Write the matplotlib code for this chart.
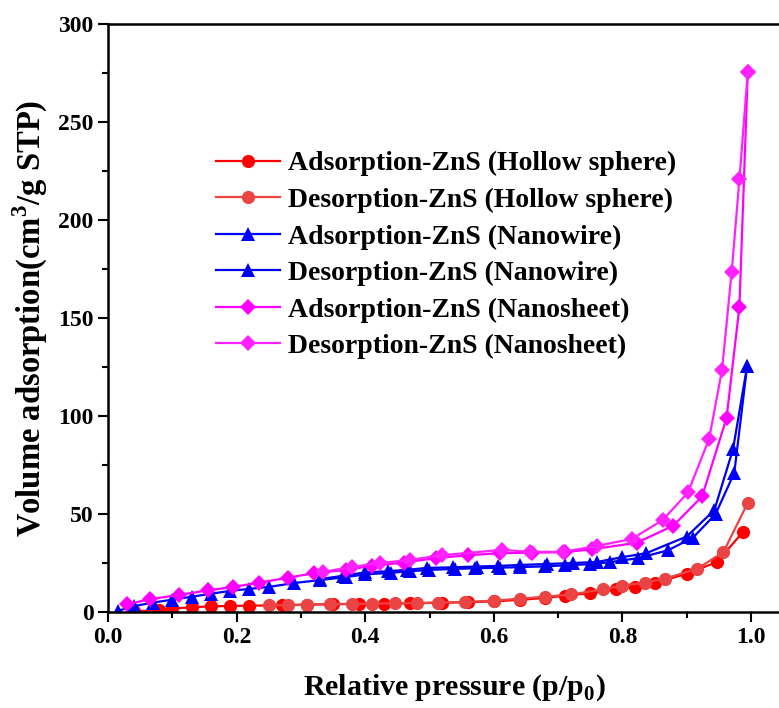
import matplotlib
matplotlib.use("Agg")
import matplotlib.pyplot as plt
from matplotlib.ticker import MultipleLocator

plt.rcParams['font.family'] = ['Liberation Serif', 'DejaVu Serif']
plt.rcParams['font.weight'] = 'bold'
plt.rcParams['mathtext.fontset'] = 'custom'
plt.rcParams['mathtext.rm'] = 'Liberation Serif:bold'
plt.rcParams['mathtext.bf'] = 'Liberation Serif:bold'

# ZnS hollow sphere
hs_ads_x = [0.04, 0.08, 0.10, 0.13, 0.16, 0.19, 0.22, 0.27, 0.31, 0.35, 0.39, 0.43, 0.47,
            0.52, 0.56, 0.60, 0.64, 0.68, 0.71, 0.75, 0.79, 0.82, 0.85, 0.90, 0.947, 0.988]
hs_ads_y = [0.3, 1.0, 1.8, 2.4, 2.9, 3.1, 3.2, 3.5, 3.8, 4.0, 4.2, 4.3, 4.5,
            4.7, 5.0, 5.4, 6.2, 7.2, 8.3, 9.6, 11.5, 13.0, 14.8, 19.5, 25.5, 41.0]
hs_des_x = [0.995, 0.957, 0.916, 0.866, 0.835, 0.80, 0.77, 0.72, 0.68, 0.64, 0.60, 0.555,
            0.513, 0.48, 0.446, 0.41, 0.38, 0.345, 0.31, 0.28, 0.25]
hs_des_y = [55.7, 30.5, 22.0, 17.0, 15.0, 13.5, 11.5, 9.0, 7.8, 6.8, 5.8, 5.1,
            4.8, 4.6, 4.4, 4.3, 4.1, 3.9, 3.7, 3.5, 3.4]

# ZnS nanowire
nw_ads_x = [0.015, 0.04, 0.07, 0.10, 0.13, 0.16, 0.19, 0.22, 0.25, 0.29, 0.33, 0.37, 0.40,
            0.44, 0.47, 0.50, 0.54, 0.57, 0.61, 0.64, 0.68, 0.71, 0.75, 0.78, 0.825, 0.871,
            0.91, 0.945, 0.974, 0.994]
nw_ads_y = [0.5, 3.0, 4.8, 6.3, 7.8, 9.3, 10.8, 11.8, 12.8, 14.8, 16.3, 17.8, 19.2,
            20.0, 20.8, 21.5, 22.0, 22.3, 22.6, 22.9, 23.3, 23.8, 24.4, 25.4, 27.5, 31.5,
            38.0, 50.0, 71.0, 125.5]
nw_des_x = [0.994, 0.972, 0.943, 0.90, 0.837, 0.80, 0.76, 0.723, 0.683, 0.64, 0.607, 0.574,
            0.537, 0.496, 0.465, 0.435, 0.40, 0.366, 0.33]
nw_des_y = [125.5, 83.0, 52.0, 38.5, 30.0, 28.0, 25.5, 25.0, 24.5, 24.0, 23.5, 23.2,
            22.8, 22.5, 21.5, 20.8, 20.2, 18.5, 16.8]

# ZnS nanosheet
ns_ads_x = [0.03, 0.065, 0.11, 0.155, 0.195, 0.235, 0.28, 0.32, 0.37, 0.41, 0.46, 0.51,
            0.56, 0.61, 0.66, 0.71, 0.753, 0.822, 0.879, 0.924, 0.962, 0.982, 0.995]
ns_ads_y = [4.0, 6.5, 8.7, 11.0, 12.8, 15.0, 17.5, 19.8, 21.5, 23.5, 25.2, 27.5,
            29.0, 30.0, 30.3, 30.5, 32.0, 35.3, 44.0, 59.0, 99.0, 155.8, 275.4]
ns_des_x = [0.995, 0.982, 0.97, 0.955, 0.935, 0.902, 0.863, 0.815, 0.76, 0.708, 0.656,
            0.613, 0.52, 0.47, 0.423, 0.38, 0.335]
ns_des_y = [275.4, 220.7, 173.7, 123.7, 88.5, 61.0, 47.0, 37.3, 33.7, 30.7, 30.7,
            31.7, 29.0, 26.6, 25.0, 23.0, 20.5]

series = [
    (hs_ads_x, hs_ads_y, '#ff0000', 'o', 'Adsorption-ZnS (Hollow sphere)'),
    (hs_des_x, hs_des_y, '#ea4444', 'o', 'Desorption-ZnS (Hollow sphere)'),
    (nw_ads_x, nw_ads_y, '#0000ff', '^', 'Adsorption-ZnS (Nanowire)'),
    (nw_des_x, nw_des_y, '#0000ee', '^', 'Desorption-ZnS (Nanowire)'),
    (ns_ads_x, ns_ads_y, '#ff00ff', 'D', 'Adsorption-ZnS (Nanosheet)'),
    (ns_des_x, ns_des_y, '#ff22ff', 'D', 'Desorption-ZnS (Nanosheet)'),
]

fig = plt.figure(figsize=(7.79, 7.08), dpi=100)
# x runs 0..1.1; the right part of the frame lies past the figure edge
ax = fig.add_axes([108 / 779, 96 / 708, 707.3 / 779, 588 / 708])

for x, y, c, m, lab in series:
    ms = 9.5 if m == 'o' else (10 if m == '^' else 8.2)
    ax.plot(x, y, color=c, marker=m, ms=ms, lw=1.6, label=lab, markeredgewidth=0)

ax.set_xlim(0, 1.1)
ax.set_ylim(0, 300)
ax.xaxis.set_major_locator(MultipleLocator(0.2))
ax.xaxis.set_minor_locator(MultipleLocator(0.1))
ax.yaxis.set_major_locator(MultipleLocator(50))
ax.yaxis.set_minor_locator(MultipleLocator(25))
ax.tick_params(which='both', direction='out', width=1.5, labelsize=17,
               top=False, right=False)
ax.tick_params(which='major', length=7)
ax.tick_params(which='minor', length=4)
ax.set_xticks([0.0, 0.2, 0.4, 0.6, 0.8, 1.0])
ax.set_xticklabels(['0.0', '0.2', '0.4', '0.6', '0.8', '1.0'], fontweight='bold')
for lbl in ax.get_yticklabels():
    lbl.set_fontweight('bold')
for s in ax.spines.values():
    s.set_linewidth(1.8)

ax.set_xlabel(r'Relative pressure (p/p$_0$)', fontsize=21.5, fontweight='bold', labelpad=18)
ax.xaxis.label.set_x(0.49)
ax.set_ylabel(r'Volume adsorption(cm$^3$/g STP)', fontsize=23.5, fontweight='bold', labelpad=6)

leg = ax.legend(loc='upper left', bbox_to_anchor=(216 / 779, 1 - 151 / 708),
                bbox_transform=fig.transFigure, frameon=False, fontsize=20,
                handlelength=2.3, handletextpad=0.3, labelspacing=0.4,
                borderaxespad=0, borderpad=0)
for t in leg.get_texts():
    t.set_fontweight('bold')

fig.savefig('out.png', dpi=100)
